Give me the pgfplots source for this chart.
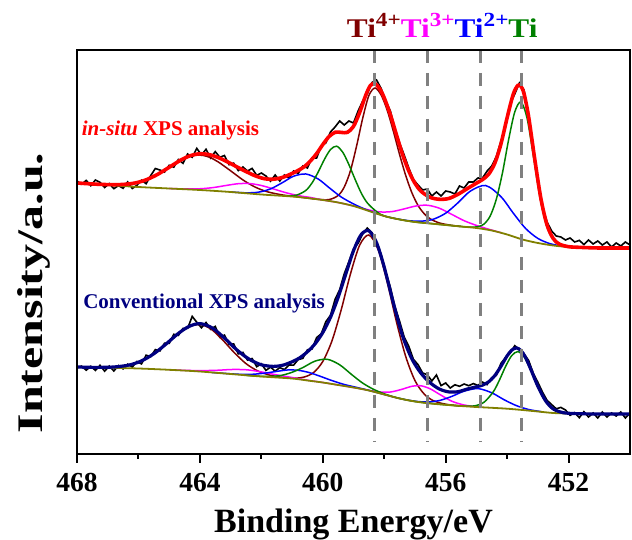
\documentclass[border=0pt]{standalone}
\usepackage{pgfplots}
\pgfplotsset{compat=1.18}
\usepackage{graphicx}
\usepackage{fontspec}
\setmainfont{Liberation Serif}

\definecolor{tibrown}{RGB}{128,0,0}
\definecolor{timag}{RGB}{255,0,255}
\definecolor{tiblue}{RGB}{0,0,255}
\definecolor{tigreen}{RGB}{0,128,0}
\definecolor{bgolive}{RGB}{128,128,0}
\definecolor{envred}{RGB}{255,0,0}
\definecolor{envnavy}{RGB}{0,0,128}
\definecolor{dashgray}{RGB}{128,128,128}
\definecolor{framecol}{RGB}{0,0,0}

\begin{document}
\begin{tikzpicture}
\path[use as bounding box] (-77pt,-86pt) rectangle (555pt,454pt);
\begin{axis}[
  scale only axis, width=553pt, height=404pt,
  at={(0,0)}, anchor=south west,
  xmin=450, xmax=468, x dir=reverse,
  ymin=0, ymax=404,
  clip=false,
  axis lines=box,
  axis line style={line width=2pt, framecol},
  xtick={452,456,460,464,468},
  minor xtick={454,458,462,466},
  ytick=\empty,
  tick align=outside,
  major tick length=9pt, minor tick length=5pt,
  tick style={line width=2pt, framecol},
  xtick pos=left,
  /pgf/number format/assume math mode=true,
  xticklabel style={font=\fontsize{27.5}{30}\selectfont\bfseries, inner sep=0pt, anchor=north, yshift=-10.3pt},
  xlabel={Binding Energy/eV},
  xlabel style={font=\fontsize{34}{38}\selectfont\bfseries, at={(axis description cs:0.5,0)}, anchor=base, yshift=-78.7pt, inner sep=0pt},
  ylabel={\scalebox{1.39}[1]{Intensity/a.u.}},
  ylabel style={font=\fontsize{36}{40}\selectfont\bfseries, at={([xshift=-43pt]axis description cs:0,0.3985)}, anchor=center, inner sep=0pt},
]

% ---------------- in-situ spectrum ----------------
\addplot[black, line width=1.6pt] coordinates {
(450.00,209) (450.15,212) (450.30,208) (450.45,211) (450.60,207) (450.75,212) (450.90,209)
(451.05,213) (451.20,210) (451.35,214) (451.50,209.5) (451.65,213.6) (451.80,212) (451.95,216)
(452.10,214) (452.25,217) (452.40,218) (452.55,223) (452.70,232) (452.85,247) (453.00,274)
(453.15,307) (453.30,338) (453.45,364) (453.60,371) (453.75,360) (453.90,350) (454.05,327)
(454.20,313) (454.35,297.5) (454.50,288) (454.65,283) (454.80,276) (454.95,276) (455.10,272)
(455.25,272) (455.40,266) (455.55,268) (455.70,260) (455.85,262) (456.00,263) (456.15,258)
(456.30,262) (456.45,258) (456.60,265) (456.75,264) (456.90,269) (457.05,274.5) (457.20,286)
(457.35,299) (457.50,311) (457.65,325) (457.80,343) (457.95,353) (458.10,365.5) (458.25,374)
(458.40,371.5) (458.55,360) (458.70,353) (458.85,343) (459.00,331) (459.15,333) (459.30,329)
(459.45,333) (459.60,327) (459.75,322) (459.90,311) (460.05,308) (460.20,296) (460.35,296)
(460.50,286) (460.65,288) (460.80,280.6) (460.95,283) (461.10,276) (461.25,279) (461.40,273)
(461.55,279) (461.70,272.8) (461.85,278) (462.00,281) (462.15,278.7) (462.30,285.6) (462.45,283)
(462.60,287) (462.75,283.4) (462.90,290.8) (463.05,289.3) (463.20,298.5) (463.35,296.7) (463.50,302.4)
(463.65,296) (463.80,304.7) (463.95,299) (464.10,305.6) (464.25,296.7) (464.40,300) (464.55,290.7)
(464.70,294.5) (464.85,286.8) (465.00,288.7) (465.15,281.9) (465.30,284) (465.45,285.5) (465.60,278.4)
(465.75,270.3) (465.90,273.8) (466.05,268.7) (466.20,265.5) (466.35,272.1) (466.50,265.7) (466.65,268.4)
(466.80,265.3) (466.95,270.4) (467.10,266.5) (467.25,271.7) (467.40,274) (467.55,268.3) (467.70,273.6)
(467.85,269.8) (468.00,273)};

% Ti4+ doublet
\addplot[tibrown, line width=1.5pt, smooth, tension=0.5] coordinates {
(455.5,227.5) (455.8,228.6) (456.2,231) (456.5,235.1) (456.7,240.3) (456.9,248.6) (457.1,261.3)
(457.3,278.5) (457.5,299.5) (457.7,322.5) (457.9,343.5) (458.1,359) (458.3,366) (458.5,358.4)
(458.7,335.8) (458.9,307.9) (459.1,283.2) (459.3,267) (459.5,258.5) (459.8,254.4) (460.2,254.8)
(460.8,257.1) (461.3,259) (461.8,262.2) (462.2,266.9) (462.6,274.1) (463.0,283.2) (463.4,292)
(463.7,296.9) (464.0,299) (464.3,297.9) (464.6,294.1) (465.0,286.7) (465.4,279.2) (465.8,273.6)
(466.2,270.5) (466.7,269.3) (467.3,269.7) (468,271)};

% Ti3+ doublet
\addplot[timag, line width=1.5pt, smooth, tension=0.5] coordinates {
(454.2,221.3) (454.6,224.8) (455.0,228.6) (455.4,233.3) (455.8,239.6) (456.2,245.7) (456.58,248.7)
(456.95,248.1) (457.35,245.1) (457.75,242.4) (458.15,242.1) (458.55,244.4) (458.95,247.7) (459.5,251.5)
(460.0,254) (460.4,256.5) (460.8,258.4) (461.2,261.3) (461.6,265) (462.0,268.5) (462.37,270.4)
(462.75,270.3) (463.15,268.5) (463.55,266.5) (463.95,265.3) (464.4,265) (465,265.5)};

% Ti2+ doublet
\addplot[tiblue, line width=1.5pt, smooth, tension=0.5] coordinates {
(452.2,207.8) (452.6,210.3) (453.0,215.6) (453.4,225.6) (453.8,240.9) (454.2,257.3) (454.7,268.5)
(455.2,262.8) (455.6,251.2) (456.0,240.8) (456.4,234.8) (456.8,232.8) (457.2,233.3) (457.6,235.2)
(458.0,238) (458.6,244.5) (459.0,250.1) (459.4,257) (459.8,266.5) (460.15,275) (460.55,280)
(460.95,277.8) (461.3,271.6) (461.7,265.1) (462.1,261.8) (462.5,261.2) (463.0,262)};

% Ti metal doublet
\addplot[tigreen, line width=1.5pt, smooth, tension=0.5] coordinates {
(451.5,206.5) (452.05,207.3) (452.35,210.3) (452.55,216.8) (452.75,232) (452.95,260.1) (453.15,299)
(453.35,335.8) (453.55,352) (453.75,342.1) (453.95,314.4) (454.15,281.3) (454.35,254.9) (454.55,238)
(454.75,230) (454.95,227.3) (455.25,226.8) (455.5,227.5) (456,229) (456.5,230.5) (457,232)
(457.5,234.5) (458,238) (458.25,242.4) (458.55,251.1) (458.75,261.1) (458.95,274.8) (459.15,289.4)
(459.35,301.8) (459.55,307.8) (459.75,304.4) (459.95,294.4) (460.15,281.9) (460.35,271) (460.55,263.6)
(460.85,258.9) (461.2,257.9)};

% Shirley background
\addplot[bgolive, line width=1.8pt, smooth, tension=0.5] coordinates {
(450,206) (451,206) (451.5,206.5) (452,207) (452.5,208.5) (453,211) (453.5,214.5) (454,219.5)
(454.5,223.5) (455,226) (455.5,227.5) (456,229) (456.5,230.5) (457,232) (457.5,234.5) (458,238)
(458.5,243) (459,248) (459.5,251.5) (460,254) (460.5,256) (461,257.5) (462,259.5) (463,262)
(464,264) (465,265.5) (466,267) (467,269) (468,271)};

% fitted envelope
\addplot[envred, line width=3.6pt, smooth, tension=0.5] coordinates {
(450,206) (451,206) (451.6,206.6) (452.0,207.3) (452.3,209.9) (452.5,215.5) (452.7,229) (452.9,255.4)
(453.1,294.8) (453.3,337.4) (453.45,360.4) (453.55,367.7) (453.65,368.6) (453.8,359.8) (454.0,336.2)
(454.2,310.1) (454.4,290.8) (454.6,279.8) (454.8,274.4) (455.0,270.8) (455.3,265.3) (455.6,259.7)
(455.9,255.5) (456.2,254.7) (456.5,256.6) (456.8,262.7) (457.0,270.7) (457.2,283) (457.4,299.2)
(457.6,319) (457.8,339.3) (458.0,356.2) (458.15,365.4) (458.3,370.4) (458.45,368.5) (458.6,358.9)
(458.8,341.5) (459.0,327.6) (459.2,321.6) (459.4,321.6) (459.6,321.7) (459.8,317.3) (460.0,309.4)
(460.2,300.4) (460.4,293.1) (460.6,287.3) (460.8,283.6) (461.0,280.5) (461.3,276.7) (461.6,274.8)
(461.9,275.3) (462.2,278.2) (462.5,282.5) (462.8,287.2) (463.1,292.1) (463.4,296.4) (463.7,299.4)
(464.0,300.2) (464.3,298.4) (464.6,294.3) (465.0,286.7) (465.4,279.2) (465.8,273.6) (466.2,270.5)
(466.7,269.3) (467.3,269.7) (468,271)};

% ---------------- conventional spectrum ----------------
\addplot[black, line width=1.6pt] coordinates {
(450.00,41) (450.15,36) (450.30,42) (450.45,38) (450.60,41) (450.75,37) (450.90,42)
(451.05,36) (451.20,41) (451.35,37) (451.50,42.3) (451.65,36.3) (451.80,41.4) (451.95,38.7)
(452.10,44) (452.25,46.6) (452.40,45.2) (452.55,49.4) (452.70,53.7) (452.85,62) (453.00,71.8)
(453.15,81) (453.30,93.6) (453.45,100) (453.60,104.4) (453.75,108.3) (453.90,101) (454.05,96.5)
(454.20,90.7) (454.35,78.7) (454.50,76.3) (454.65,69.4) (454.80,71.9) (454.95,68.6) (455.10,70.4)
(455.25,68.3) (455.40,70) (455.55,67.7) (455.70,69.2) (455.85,66) (456.00,71) (456.15,68.4)
(456.30,79) (456.45,73) (456.60,79.3) (456.75,81) (456.90,89.4) (457.05,94.7) (457.20,107.7)
(457.35,117) (457.50,132.8) (457.65,147.2) (457.80,166.7) (457.95,182) (458.10,199.6) (458.25,210.3)
(458.40,221.4) (458.55,226) (458.70,220) (458.85,210.7) (459.00,205.2) (459.15,192.3) (459.30,180.3)
(459.45,164.3) (459.60,154.6) (459.75,138.6) (459.90,132.3) (460.05,120.2) (460.20,116.4) (460.35,105)
(460.50,104.2) (460.65,95.6) (460.80,94.4) (460.95,88.9) (461.10,89) (461.25,84.4) (461.40,86.4)
(461.55,82.8) (461.70,86.9) (461.85,83.6) (462.00,90.2) (462.15,87.3) (462.30,95.5) (462.45,93.9)
(462.60,101.6) (462.75,100.1) (462.90,110.1) (463.05,109.5) (463.20,118.9) (463.35,116.7) (463.50,127.6)
(463.65,124.7) (463.80,131.5) (463.95,126.2) (464.10,131.8) (464.25,137.6) (464.40,125.6) (464.55,125.6)
(464.70,118.6) (464.85,119.7) (465.00,110.6) (465.15,110.8) (465.30,103.1) (465.45,104.4) (465.60,97.4)
(465.75,98.8) (465.90,90.1) (466.05,92.5) (466.20,87) (466.35,89.8) (466.50,85.1) (466.65,88.5)
(466.80,83) (466.95,87.9) (467.10,82.8) (467.25,88.7) (467.40,83.6) (467.55,87.7) (467.70,83.8)
(467.85,87.9) (468.00,86)};

% Ti4+ doublet
\addplot[tibrown, line width=1.5pt, smooth, tension=0.5] coordinates {
(455.5,48) (456.0,49.8) (456.4,53.3) (456.7,60) (457.0,73.5) (457.3,97.5) (457.6,132) (457.9,171.6)
(458.2,204.6) (458.5,219) (458.8,208.8) (459.1,179.9) (459.4,144.2) (459.7,113.2) (460.0,92.5)
(460.3,81.4) (460.6,77) (460.9,75.8) (461.3,76.6) (461.7,78.7) (462.1,82.8) (462.5,90.4) (462.9,102)
(463.3,115.4) (463.65,125.2) (464.0,129.5) (464.35,127.3) (464.7,120.5) (465.1,110) (465.5,100.2)
(465.9,93.1) (466.3,89) (466.8,87) (467.4,86.6) (468,87)};

% Ti3+ doublet
\addplot[timag, line width=1.5pt, smooth, tension=0.5] coordinates {
(455.0,47.2) (455.4,49) (455.8,52.8) (456.2,59.7) (456.5,65.1) (456.8,68.2) (457.1,67.7) (457.4,64.9)
(457.8,62) (458.2,62.2) (458.6,64.3) (459.0,66.5) (460,71.5) (460.5,73.8) (461.0,76.5) (461.5,79.1)
(462.0,82.1) (462.47,84.2) (462.95,84.5) (463.45,83.7) (463.95,83.4) (464.45,83.6) (465,84.2)};

% Ti2+ doublet
\addplot[tiblue, line width=1.5pt, smooth, tension=0.5] coordinates {
(452.9,42.4) (453.3,44.5) (453.7,48.4) (454.1,54.3) (454.5,61.2) (454.95,65.4) (455.4,62.8) (455.8,57.6)
(456.2,53.5) (456.6,52) (457.0,52.8) (457.5,55.5) (458.0,59.5) (458.5,63.6) (458.9,66.6) (459.3,69.5)
(459.7,73.4) (460.1,77.9) (460.45,81.5) (460.8,83.7) (461.15,84) (461.5,82.6) (461.9,80.8) (462.3,79.7)
(462.7,79.7) (463.1,80.4) (463.6,81.5)};

% Ti metal doublet
\addplot[tigreen, line width=1.5pt, smooth, tension=0.5] coordinates {
(451.9,40.5) (452.25,41.8) (452.55,46.3) (452.85,58.1) (453.05,70.8) (453.25,85.3) (453.45,97.3)
(453.65,102.4) (453.85,98.4) (454.05,87.5) (454.25,73.9) (454.45,62.2) (454.75,51.8) (455.05,48.2)
(455.4,47.9) (456,49.2) (457,52.5) (457.6,56.4) (458.0,60.2) (458.35,64.7) (458.7,70.9) (459.05,79.2)
(459.45,89.2) (459.85,94.7) (460.25,92.9) (460.65,86.4) (461.0,81.7) (461.35,78.6) (461.7,77.6)
(462.1,77.8) (462.5,78.7)};

% Shirley background
\addplot[bgolive, line width=1.8pt, smooth, tension=0.5] coordinates {
(450,40) (451,40) (452,40.5) (452.5,41) (453,42.5) (453.5,44) (454,45.3) (454.5,46.2) (455,47)
(455.5,48) (456,49.2) (456.5,50.5) (457,52.5) (457.5,55.5) (458,59.5) (458.5,63.5) (459,66.5)
(459.5,69) (460,71.5) (460.5,73.5) (461,75.5) (462,77.5) (463,80) (464,82.5) (465,84.2) (466,85.5)
(467,86.3) (468,87)};

% fitted envelope
\addplot[envnavy, line width=3.2pt, smooth, tension=0.5] coordinates {
(450,40) (451,40) (451.8,40.4) (452.2,41.5) (452.5,45.1) (452.75,53.3) (453.0,67.8) (453.2,82.6)
(453.4,96.6) (453.55,103.5) (453.7,106.1) (453.85,103.8) (454.0,98.1) (454.2,87.7) (454.4,78.4)
(454.6,72.2) (454.8,68.9) (455.0,67.2) (455.3,64.9) (455.6,62.3) (455.9,62.1) (456.2,64.9) (456.5,71.1)
(456.8,80.7) (457.1,95.1) (457.4,117.9) (457.7,150.7) (458.0,186.9) (458.25,211.3) (458.5,223.2)
(458.75,219.4) (459.0,203.2) (459.25,180) (459.5,156.6) (459.75,136.6) (460.0,121.4) (460.25,110.2)
(460.5,102.2) (460.75,96.2) (461.0,92.2) (461.3,88.8) (461.6,87.6) (462.0,89.2) (462.4,94.9)
(462.8,104.2) (463.2,115.9) (463.6,126.1) (464.0,130.4) (464.35,127.6) (464.7,120.6) (465.1,110)
(465.5,100.2) (465.9,93.1) (466.3,89) (466.8,87) (467.4,86.6) (468,87)};

% reference positions of the Ti 2p3/2 states, over the curves
\addplot[dashgray, line width=3pt, dash pattern=on 13pt off 10pt] coordinates {(458.32,404) (458.32,12)};
\addplot[dashgray, line width=3pt, dash pattern=on 13pt off 10pt] coordinates {(456.58,404) (456.58,12)};
\addplot[dashgray, line width=3pt, dash pattern=on 13pt off 10pt] coordinates {(454.85,404) (454.85,12)};
\addplot[dashgray, line width=3pt, dash pattern=on 13pt off 10pt] coordinates {(453.52,404) (453.52,12)};

% annotations
\node[anchor=base west, inner sep=0pt, text=envred, font=\fontsize{21}{24}\selectfont\bfseries]
  at (axis cs:467.85,318) {\textit{in-situ} XPS analysis};
\node[anchor=base west, inner sep=0pt, text=envnavy, font=\fontsize{21}{24}\selectfont\bfseries]
  at (axis cs:467.8,145.7) {Conventional XPS analysis};
\node[anchor=base west, inner sep=0pt, font=\fontsize{27}{30}\selectfont\bfseries]
  at (axis cs:459.22,416.3) {\scalebox{1.16}[1]{\textcolor{tibrown}{Ti\raisebox{0.42em}{\fontsize{20}{22}\selectfont 4+}}\textcolor{timag}{Ti\raisebox{0.42em}{\fontsize{20}{22}\selectfont 3+}}\textcolor{tiblue}{Ti\raisebox{0.42em}{\fontsize{20}{22}\selectfont 2+}}\textcolor{tigreen}{Ti}}};

% plot frame: left, top and right edges
\fill[framecol] ([xshift=-1pt,yshift=-1pt]axis cs:468,0) rectangle ([xshift=1pt,yshift=1pt]axis cs:468,404);
\fill[framecol] ([xshift=-1pt,yshift=-1pt]axis cs:468,404) rectangle ([xshift=1pt,yshift=1pt]axis cs:450,404);
\fill[framecol] ([xshift=-1pt,yshift=-1pt]axis cs:450,0) rectangle ([xshift=1pt,yshift=1pt]axis cs:450,404);
\end{axis}
\end{tikzpicture}
\end{document}
